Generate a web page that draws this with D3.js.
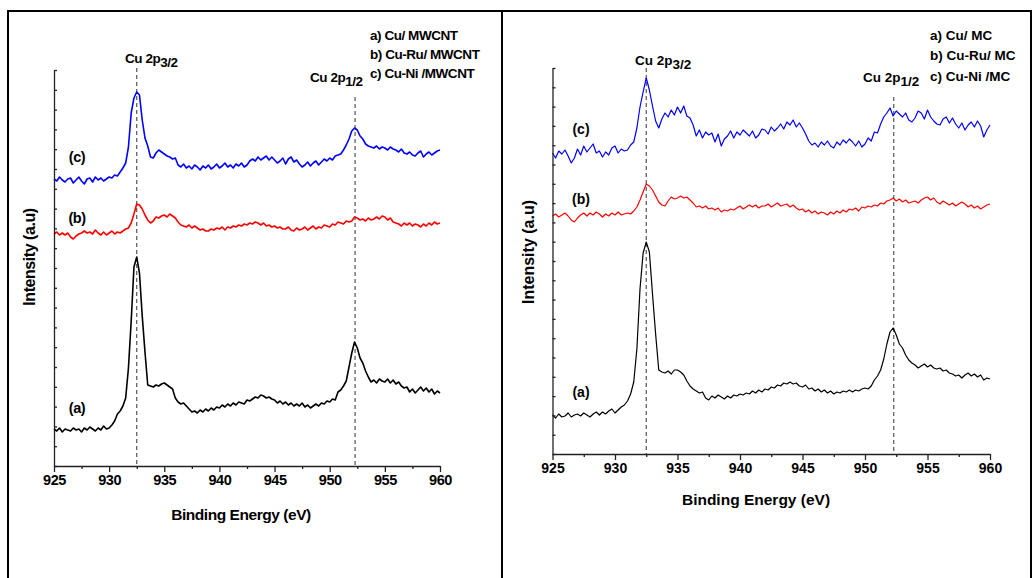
<!DOCTYPE html>
<html>
<head>
<meta charset="utf-8">
<script src="https://d3js.org/d3.v7.min.js"></script>
<style>
  body { margin: 0; background: #fff; }
  svg { display: block; }
  text { font-family: "Liberation Sans", Arial, sans-serif; font-weight: bold; fill: #000; }
</style>
</head>
<body>
<svg id="chart" width="1033" height="578"></svg>
<script>
// binding energy grid, 0.25 eV steps from 925 to 960 eV
const energy = d3.range(141).map(i => 925 + i * 0.25);

// left panel (MWCNT supports), intensity in a.u.
const mwcntA = [
  37, 35, 38, 34, 37, 36, 35, 38, 36, 37, 34, 38, 36, 39, 37, 35, 38, 36, 40, 37,
  38, 41, 45, 52, 55, 60, 68, 98, 145, 199, 209, 193, 150, 114, 81, 80, 79, 81, 80, 82,
  83, 81, 79, 77, 68, 64, 62, 63, 60, 57, 54, 55, 53, 56, 54, 57, 55, 58, 56, 59,
  58, 61, 59, 62, 60, 63, 61, 64, 63, 62, 66, 65, 67, 69, 68, 71, 70, 68, 69, 67,
  66, 63, 65, 62, 64, 61, 63, 60, 62, 60, 63, 59, 61, 58, 60, 62, 60, 63, 62, 65,
  64, 67, 66, 74, 76, 80, 85, 99, 113, 124, 118, 108, 103, 95, 89, 84, 86, 83, 87, 85,
  84, 87, 83, 86, 82, 84, 80, 78, 79, 74, 77, 73, 76, 79, 75, 78, 74, 77, 72, 75, 73
];
const mwcntB = [
  232, 234, 231, 233, 231, 233, 229, 227, 230, 232, 233, 235, 233, 234, 232, 236, 233, 231, 234, 231,
  233, 235, 232, 234, 233, 235, 237, 238, 243, 252, 262, 261, 257, 251, 246, 243, 245, 249, 248, 250,
  251, 249, 252, 250, 248, 244, 241, 240, 239, 241, 238, 240, 238, 236, 237, 235, 235, 237, 236, 238,
  237, 239, 236, 239, 238, 240, 239, 241, 240, 242, 241, 243, 242, 244, 243, 241, 243, 240, 241, 239,
  240, 238, 239, 237, 237, 239, 236, 235, 238, 236, 237, 239, 236, 238, 240, 237, 239, 238, 241, 240,
  239, 242, 241, 244, 243, 242, 245, 244, 245, 249, 248, 246, 247, 245, 248, 246, 247, 249, 247, 250,
  249, 246, 248, 244, 243, 242, 240, 243, 241, 243, 240, 242, 241, 239, 242, 240, 243, 241, 244, 242, 243
];
const mwcntC = [
  287, 285, 289, 286, 284, 287, 288, 283, 286, 289, 285, 282, 287, 288, 284, 289, 286, 288, 285, 287,
  289, 288, 291, 290, 294, 298, 303, 319, 353, 368, 374, 371, 346, 328, 320, 309, 308, 313, 316, 314,
  312, 310, 309, 307, 308, 301, 299, 302, 298, 300, 297, 301, 299, 296, 300, 298, 301, 297, 299, 302,
  298, 300, 303, 299, 301, 298, 302, 300, 303, 299, 301, 305, 307, 305, 309, 306, 308, 310, 306, 309,
  306, 303, 305, 308, 302, 307, 309, 304, 306, 302, 299, 301, 304, 300, 303, 305, 301, 304, 307, 305,
  308, 306, 310, 311, 312, 316, 321, 327, 335, 338, 336, 330, 327, 322, 320, 319, 318, 320, 317, 319,
  318, 316, 319, 317, 316, 314, 317, 313, 312, 314, 311, 310, 313, 315, 309, 312, 314, 311, 313, 315, 316
];

// right panel (MC supports)
const mcA = [
  39, 36, 40, 37, 38, 41, 37, 39, 40, 38, 41, 39, 37, 40, 42, 39, 42, 40, 43, 45,
  41, 44, 47, 49, 53, 60, 72, 105, 165, 201, 212, 202, 160, 120, 84, 82, 81, 83, 80, 84,
  84, 82, 79, 73, 68, 65, 63, 61, 62, 56, 54, 58, 56, 59, 57, 55, 58, 56, 59, 58,
  60, 59, 61, 60, 63, 61, 64, 62, 65, 64, 67, 66, 69, 68, 71, 70, 72, 70, 71, 68,
  67, 69, 65, 66, 63, 65, 62, 64, 61, 63, 60, 62, 61, 63, 62, 64, 62, 64, 63, 65,
  66, 65, 68, 74, 78, 84, 95, 110, 122, 126, 119, 110, 106, 99, 94, 91, 89, 86, 88, 90,
  87, 89, 86, 85, 86, 83, 84, 81, 80, 78, 79, 76, 79, 81, 78, 80, 77, 79, 74, 76, 75
];
const mcB = [
  238, 240, 237, 239, 241, 238, 234, 232, 236, 239, 241, 238, 241, 239, 242, 240, 237, 240, 238, 241,
  239, 242, 239, 240, 241, 240, 243, 247, 254, 262, 270, 268, 264, 258, 252, 249, 248, 253, 257, 255,
  256, 258, 256, 257, 254, 251, 247, 248, 246, 248, 245, 246, 244, 246, 242, 244, 243, 245, 244, 246,
  248, 245, 247, 249, 247, 249, 246, 248, 248, 250, 247, 249, 251, 248, 249, 250, 247, 249, 246, 244,
  245, 242, 244, 241, 243, 240, 242, 241, 239, 242, 240, 243, 241, 244, 242, 245, 244, 246, 243, 247,
  246, 248, 247, 249, 248, 251, 250, 253, 254, 256, 253, 255, 252, 254, 251, 252, 253, 251, 254, 256,
  257, 254, 256, 252, 250, 253, 251, 249, 251, 248, 250, 252, 250, 247, 249, 246, 248, 245, 247, 249, 250
];
const mcC = [
  301, 296, 303, 300, 304, 298, 291, 296, 305, 299, 308, 302, 306, 310, 301, 303, 297, 302, 299, 306,
  308, 301, 305, 303, 304, 309, 312, 326, 347, 362, 376, 364, 348, 333, 326, 335, 341, 337, 344, 339,
  347, 341, 348, 338, 336, 329, 318, 324, 316, 322, 319, 321, 312, 320, 308, 315, 318, 323, 316, 322,
  319, 324, 321, 318, 323, 316, 319, 325, 324, 320, 327, 323, 326, 330, 325, 332, 329, 334, 327, 331,
  326, 320, 313, 309, 311, 307, 312, 309, 313, 308, 306, 312, 309, 314, 311, 315, 312, 308, 313, 307,
  310, 316, 313, 322, 321, 330, 337, 341, 346, 338, 343, 340, 337, 341, 334, 332, 336, 343, 341, 335,
  344, 337, 333, 330, 329, 335, 337, 331, 336, 330, 326, 331, 324, 329, 332, 327, 333, 328, 317, 324, 329
];

const xTicks = [925, 930, 935, 940, 945, 950, 955, 960];
const xMinor = [927.5, 932.5, 937.5, 942.5, 947.5, 952.5, 957.5];
const peakLines = [932.5, 952.3];
const curveLabels = ["(a)", "(b)", "(c)"];

const svg = d3.select("#chart");

// outer table frame
svg.append("rect").attr("x", 8).attr("y", 11).attr("width", 1023).attr("height", 620)
  .attr("fill", "none").attr("stroke", "#000").attr("stroke-width", 2);
svg.append("line").attr("x1", 502).attr("x2", 502).attr("y1", 11).attr("y2", 578)
  .attr("stroke", "#000").attr("stroke-width", 2);

function drawPanel(p) {
  const x = d3.scaleLinear().domain([925, 960]).range([p.left, p.right]);
  const y = d3.scaleLinear().domain([0, p.yMax]).range([p.bottom, p.top]);
  const g = svg.append("g");
  const ls = p.spacing;

  // peak guide lines
  peakLines.forEach((e, i) => {
    g.append("line").attr("x1", x(e)).attr("x2", x(e))
      .attr("y1", p.guideTop[i]).attr("y2", p.bottom)
      .attr("stroke", "#555").attr("stroke-width", 1.2).attr("stroke-dasharray", "4,3");
  });

  // spectra
  const line = d3.line().x((d, i) => x(energy[i])).y(d => y(d));
  p.series.forEach(s => {
    g.append("path").datum(s.values).attr("d", line)
      .attr("fill", "none").attr("stroke", s.color).attr("stroke-width", p.lw)
      .attr("stroke-linejoin", "round");
  });

  // x axis
  const xa = g.append("g").attr("transform", `translate(0,${p.bottom})`)
    .call(d3.axisBottom(x).tickValues(xTicks).tickSize(6).tickSizeOuter(0).tickPadding(3));
  xa.selectAll("text").style("font-size", p.tickFont + "px").style("letter-spacing", ls + "px")
    .attr("font-family", null);
  g.append("g").attr("transform", `translate(0,${p.bottom})`)
    .call(d3.axisBottom(x).tickValues(xMinor).tickSize(3).tickFormat(""))
    .select(".domain").remove();

  // y axis, ticks inward, no labels
  const yt = d3.range(21).map(i => i * p.yMax / 20);
  g.append("g").attr("transform", `translate(${p.left},0)`)
    .call(d3.axisRight(y).tickValues(yt).tickSize(3).tickSizeOuter(0).tickFormat(""));
  g.selectAll(".domain, .tick line").attr("stroke", "#222").attr("stroke-width", 1.3);

  // axis titles
  g.append("text").attr("x", p.xTitle[0]).attr("y", p.xTitle[1]).attr("text-anchor", "middle")
    .style("font-size", p.titleFont + "px").style("letter-spacing", ls + "px")
    .text("Binding Energy (eV)");
  g.append("text").attr("transform", `translate(${p.yTitle[0]},${p.yTitle[1]}) rotate(-90)`)
    .attr("text-anchor", "middle")
    .style("font-size", p.yTitleFont + "px").style("letter-spacing", ls + "px")
    .text("Intensity (a.u)");

  // peak labels
  ["3/2", "1/2"].forEach((sub, i) => {
    const t = g.append("text").attr("x", p.peakLab[i][0]).attr("y", p.peakLab[i][1])
      .style("font-size", p.labFont + "px").style("letter-spacing", ls + "px");
    t.append("tspan").text("Cu 2p");
    t.append("tspan").attr("dy", 4).text(sub);
  });

  // curve tags
  curveLabels.forEach((c, i) => {
    g.append("text").attr("x", p.tagX).attr("y", p.tagY[i]).attr("text-anchor", "middle")
      .style("font-size", p.tagFont + "px").style("letter-spacing", ls + "px").text(c);
  });

  // legend
  p.legend.forEach((t, i) => {
    g.append("text").attr("x", p.legX).attr("y", p.legY[i])
      .style("font-size", p.labFont + "px").style("letter-spacing", ls + "px").text(t);
  });
}

drawPanel({
  left: 54, right: 440, top: 70, bottom: 466, yMax: 396,
  lw: 1.6, spacing: -0.45, tickFont: 14.5, titleFont: 15.5, yTitleFont: 16, labFont: 13.5, tagFont: 14.5,
  series: [
    { values: mwcntA, color: "#000" },
    { values: mwcntB, color: "#ff0000" },
    { values: mwcntC, color: "#0000ff" }
  ],
  guideTop: [68, 97],
  xTitle: [241, 520], yTitle: [35, 257],
  peakLab: [[125, 63], [310, 82]],
  tagX: 77, tagY: [413, 223, 162],
  legX: 370, legY: [40, 59, 78],
  legend: ["a) Cu/ MWCNT", "b) Cu-Ru/ MWCNT", "c) Cu-Ni /MWCNT"]
});

drawPanel({
  left: 552.5, right: 990, top: 68, bottom: 454, yMax: 386,
  lw: 1.2, spacing: 0, tickFont: 14, titleFont: 15.5, yTitleFont: 16, labFont: 13.5, tagFont: 14,
  series: [
    { values: mcA, color: "#000" },
    { values: mcB, color: "#ff0000" },
    { values: mcC, color: "#0000ff" }
  ],
  guideTop: [68, 97],
  xTitle: [756, 505], yTitle: [534, 252],
  peakLab: [[635, 65], [863, 82]],
  tagX: 581, tagY: [397, 204, 134],
  legX: 930, legY: [40, 60, 81],
  legend: ["a) Cu/ MC", "b) Cu-Ru/ MC", "c) Cu-Ni /MC"]
});
</script>
</body>
</html>
